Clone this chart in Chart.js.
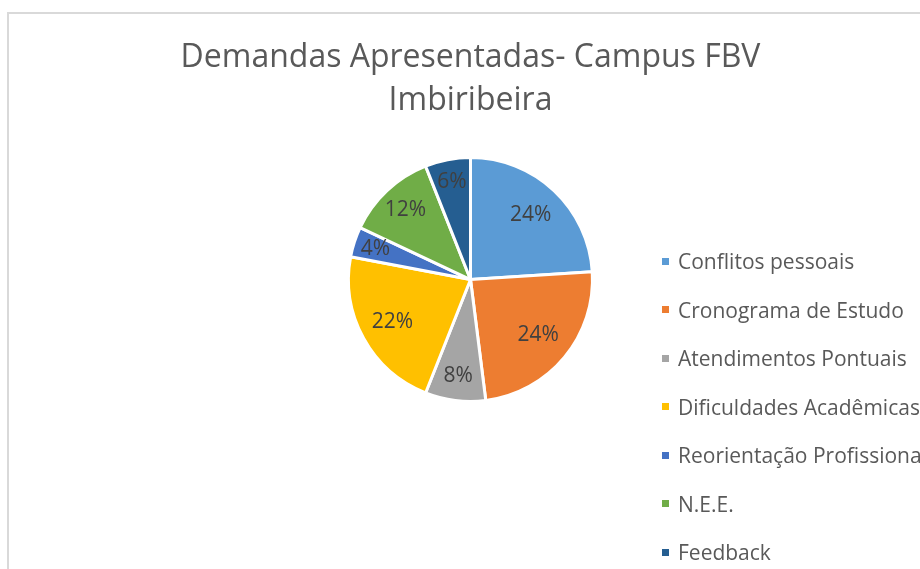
<!DOCTYPE html>
<html>
<head>
<meta charset="utf-8">
<title>Demandas Apresentadas</title>
<script src="https://cdn.jsdelivr.net/npm/chart.js@4.4.1/dist/chart.umd.min.js"></script>
<style>
    html, body { margin: 0; padding: 0; background: #fff; overflow: hidden; }
    body { width: 920px; height: 569px; position: relative; }
    #frame {
        position: absolute; left: 7px; top: 12px;
        width: 960px; height: 600px;
        border: 2px solid #d9d9d9;
    }
    #myChart { position: absolute; left: 0; top: 0; }
    #legend {
        position: absolute; left: 653px; top: 223px;
        margin: 0; padding: 0; list-style: none;
        font-family: 'Open Sans', sans-serif; font-size: 21px; color: #595959;
        white-space: nowrap;
    }
    #legend li { height: 48.5px; display: flex; align-items: center; }
    #legend span.box { width: 7px; height: 7px; margin-right: 9px; display: inline-block; }
</style>
</head>
<body>
<div id="frame">
    <canvas id="myChart" width="922" height="412"></canvas>
    <ul id="legend"></ul>
</div>
<script>
    // chart values
    const categories = [
        "Conflitos pessoais",
        "Cronograma de Estudo",
        "Atendimentos Pontuais",
        "Dificuldades Acadêmicas",
        "Reorientação Profissional",
        "N.E.E.",
        "Feedback"
    ];
    const values = [24, 24, 8, 22, 4, 12, 6];
    const sliceColors = ["#5B9BD5", "#ED7D31", "#A5A5A5", "#FFC000", "#4472C4", "#70AD47", "#255E91"];
    const chartTitle = ["Demandas Apresentadas- Campus FBV", "Imbiribeira"];

    const font = "'Open Sans', sans-serif";

    // percentage labels inside the slices
    const percentLabels = {
        id: 'percentLabels',
        afterDatasetsDraw(chart) {
            const ctx = chart.ctx;
            const meta = chart.getDatasetMeta(0);
            const data = chart.data.datasets[0].data;
            const total = data.reduce((a, b) => a + b, 0);
            ctx.save();
            ctx.font = "21px " + font;
            ctx.fillStyle = "#404040";
            ctx.textAlign = "center";
            ctx.textBaseline = "middle";
            meta.data.forEach((arc, i) => {
                const p = arc.getProps(['x', 'y', 'startAngle', 'endAngle', 'outerRadius'], true);
                const share = data[i] / total;
                const mid = (p.startAngle + p.endAngle) / 2;
                const r = p.outerRadius * (0.84 - 0.5 * share);
                ctx.fillText(Math.round(share * 100) + "%", p.x + Math.cos(mid) * r, p.y + Math.sin(mid) * r);
            });
            ctx.restore();
        }
    };

    const chart = new Chart("myChart", {
        type: "pie",
        data: {
            labels: categories,
            datasets: [{
                data: values,
                backgroundColor: sliceColors,
                borderColor: "#ffffff",
                borderWidth: 3
            }]
        },
        options: {
            responsive: false,
            animation: false,
            radius: 122,
            layout: { padding: { left: 1, right: 0, top: 0, bottom: 0 } },
            plugins: {
                legend: { display: false },
                tooltip: { enabled: false },
                title: {
                    display: true,
                    text: chartTitle,
                    color: "#595959",
                    font: { family: font, size: 32, weight: 'normal', lineHeight: 1.36 },
                    padding: { top: 22, bottom: 10 }
                }
            }
        },
        plugins: [percentLabels]
    });

    // legend list built from the chart's own legend items
    const items = chart.options.plugins.legend.labels.generateLabels(chart);
    const ul = document.getElementById("legend");
    items.forEach(item => {
        const li = document.createElement("li");
        const box = document.createElement("span");
        box.className = "box";
        box.style.background = item.fillStyle;
        li.appendChild(box);
        li.appendChild(document.createTextNode(item.text));
        ul.appendChild(li);
    });
</script>
</body>
</html>
